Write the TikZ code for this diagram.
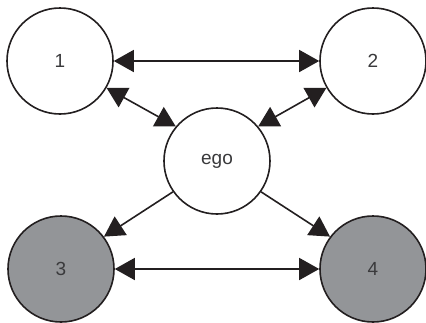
\documentclass[tikz,border=0pt]{standalone}
\usepackage{fontspec}
\setmainfont{Liberation Sans}
\usetikzlibrary{arrows.meta}
\definecolor{linec}{HTML}{231F20}
\definecolor{graynode}{HTML}{939598}
\definecolor{txt}{HTML}{3A3A3C}
\tikzset{
  person/.style={circle, draw=linec, line width=1.6bp, minimum size=106bp, inner sep=0pt,
    font=\fontsize{19bp}{22bp}\selectfont, text=txt},
  alter/.style={person, fill=white},
  peer/.style={person, fill=graynode},
  tie/.style={draw=linec, line width=1.6bp, -{Triangle[length=20bp,width=22bp]}},
  mutual/.style={tie, {Triangle[length=20bp,width=22bp]}-{Triangle[length=20bp,width=22bp]}}
}
\begin{document}
\begin{tikzpicture}[x=1bp,y=-1bp]
\useasboundingbox (0,0) rectangle (426,323);
\node[alter] (n1) at (60,61) {1};
\node[alter] (n2) at (373,61) {2};
\node[alter] (ego) at (217,161) {ego};
\node[peer] (n3) at (61,269) {3};
\node[peer] (n4) at (373,269) {4};
\draw[mutual] (n1.east) -- (n2.west);
\draw[mutual] (n3.east) -- (n4.west);
\draw[mutual] (n1.-30) -- (ego.140);
\draw[mutual] (n2.-150) -- (ego.40);
\draw[tie] (ego.-145) -- (n3.37);
\draw[tie] (ego.-35) -- (n4.143);
\end{tikzpicture}
\end{document}
